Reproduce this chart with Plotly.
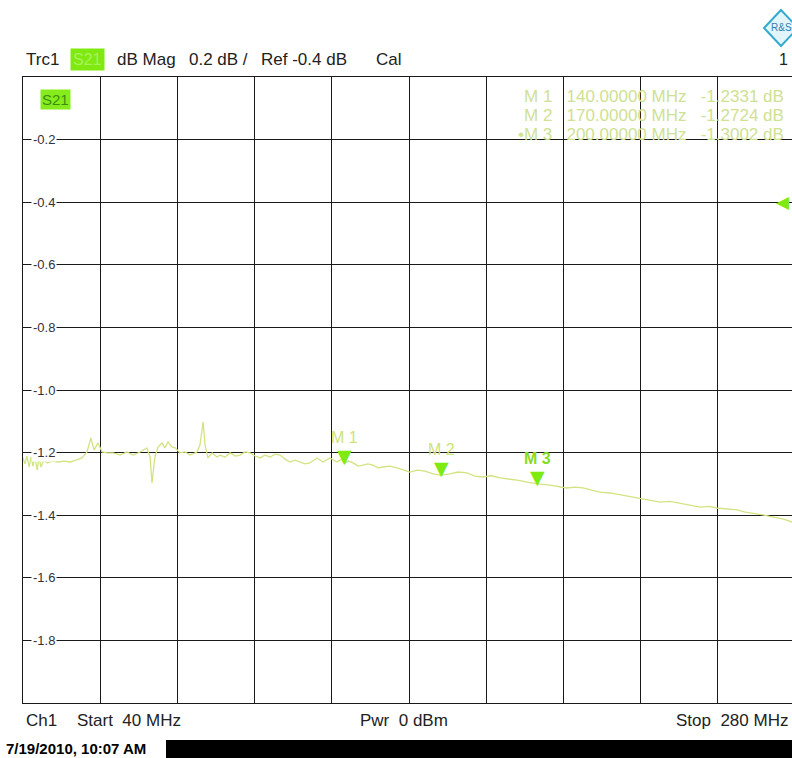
import plotly.graph_objects as go

# ---------------- data ----------------
freq_mhz = [40.0, 40.6, 41.2, 41.9, 42.5, 43.1, 43.7, 44.4, 45.0, 45.6, 46.5, 47.5,
            49.0, 50.9, 52.7, 54.6, 56.5, 58.3, 59.9, 61.1, 62.1, 63.3, 64.6, 66.1,
            68.0, 70.2, 72.3, 74.2, 76.4, 78.5, 79.5, 80.1, 81.0, 82.0, 83.2, 84.1,
            85.1, 86.3, 87.3, 88.8, 90.4, 91.9, 94.1, 95.0, 96.0, 96.6, 97.5, 98.8,
            100.3, 101.2, 102.8, 104.4, 106.0, 107.5, 109.0, 110.6, 112.2, 113.7,
            115.2, 116.8, 118.4, 119.9, 121.5, 123.0, 124.6, 126.1, 127.7, 129.2,
            131.4, 133.3, 135.4, 137.6, 139.0, 140.0, 141.2, 142.6, 144.2, 145.7,
            147.2, 148.8, 150.4, 151.9, 154.0, 156.3, 158.3, 160.3, 162.6, 165.0,
            167.5, 170.0, 172.7, 175.3, 178.0, 180.5, 183.0, 185.6, 188.3, 190.9,
            193.6, 196.8, 200.0, 203.8, 206.5, 209.1, 211.6, 214.1, 216.8, 219.4,
            222.5, 225.6, 228.7, 231.8, 234.9, 238.0, 241.1, 244.2, 247.3, 250.5,
            253.1, 255.7, 258.8, 262.0, 264.5, 266.9, 270.0, 273.2, 276.2, 279.1]
s21_db = [-1.217, -1.236, -1.211, -1.246, -1.214, -1.243, -1.211, -1.256, -1.217, -1.246, -1.224, -1.233,
          -1.227, -1.230, -1.227, -1.230, -1.224, -1.217, -1.198, -1.153, -1.192, -1.169, -1.198, -1.201,
          -1.201, -1.208, -1.198, -1.208, -1.198, -1.185, -1.214, -1.297, -1.214, -1.182, -1.169, -1.185,
          -1.166, -1.182, -1.185, -1.201, -1.198, -1.208, -1.198, -1.176, -1.102, -1.176, -1.217, -1.201,
          -1.214, -1.208, -1.214, -1.201, -1.211, -1.208, -1.198, -1.201, -1.211, -1.217,
          -1.208, -1.214, -1.205, -1.208, -1.221, -1.230, -1.224, -1.230, -1.236, -1.233,
          -1.217, -1.230, -1.217, -1.230, -1.221, -1.233, -1.227, -1.233, -1.243, -1.240,
          -1.236, -1.240, -1.249, -1.246, -1.243, -1.249, -1.256, -1.262, -1.256, -1.259,
          -1.268, -1.272, -1.268, -1.262, -1.265, -1.275, -1.278, -1.274, -1.281, -1.284,
          -1.288, -1.294, -1.300, -1.304, -1.308, -1.313, -1.310, -1.313, -1.320, -1.326,
          -1.329, -1.335, -1.340, -1.345, -1.351, -1.358, -1.356, -1.361, -1.368, -1.374,
          -1.372, -1.377, -1.381, -1.383, -1.390, -1.393, -1.399, -1.406, -1.412, -1.422]

marker_names = ["M 1", "M 2", "M 3"]
marker_freq = [140.0, 170.0, 200.0]
marker_db = [-1.2331, -1.2724, -1.3002]

y_tick_vals = [-0.2, -0.4, -0.6, -0.8, -1.0, -1.2, -1.4, -1.6, -1.8]
y_tick_text = ["-0.2", "-0.4", "-0.6", "-0.8", "-1.0", "-1.2", "-1.4", "-1.6", "-1.8"]

start_mhz = 40
stop_mhz = 280
ref_db = -0.4

# ---------------- layout helpers ----------------
W, H = 792, 758
L, R, T, B = 23, 0, 77, 55
PW, PH = W - L - R, H - T - B


def px(x):
    return (x - L) / PW


def py(y):
    return (H - B - y) / PH


TRACE = "#d2e482"
GREEN = "#7eea12"
PALE = "#cfe192"
FONT = "Liberation Sans, Arial, sans-serif"

fig = go.Figure()
fig.add_trace(go.Scatter(x=freq_mhz, y=s21_db, mode="lines",
                         line=dict(color=TRACE, width=1.3), hoverinfo="skip"))

annotations = []
# y tick labels inside the grid with white background
for v, t in zip(y_tick_vals, y_tick_text):
    annotations.append(dict(x=px(31), y=v, xref="paper", yref="y", text=t,
                            showarrow=False, xanchor="left", yanchor="middle",
                            bgcolor="white", borderpad=1,
                            font=dict(family=FONT, size=13, color="#333333")))

# markers (triangles and labels)
for i, (n, f, d) in enumerate(zip(marker_names, marker_freq, marker_db)):
    annotations.append(dict(x=f, y=d, xref="x", yref="y", text="▼", showarrow=False,
                            xanchor="center", yanchor="bottom", yshift=-6,
                            font=dict(family="DejaVu Sans", size=19, color=GREEN)))
    active = (i == len(marker_names) - 1)
    annotations.append(dict(x=f, y=d, xref="x", yref="y",
                            text=f"<b>{n}</b>" if active else n, showarrow=False,
                            xanchor="center", yanchor="bottom", yshift=15,
                            font=dict(family=FONT, size=16,
                                      color="#86dc22" if active else "#cde37c")))

# marker readout (top right)
for i, (n, f, d) in enumerate(zip(marker_names, marker_freq, marker_db)):
    prefix = "•" if i == len(marker_names) - 1 else ""
    annotations.append(dict(x=px(786), y=py(96 + 19 * i), xref="paper", yref="paper",
                            text=f"{prefix}{n}   {f:.5f} MHz   {d:.4f} dB",
                            showarrow=False, xanchor="right", yanchor="middle",
                            font=dict(family=FONT, size=17, color=PALE)))

# S21 label inside plot
annotations.append(dict(x=px(40), y=py(100), xref="paper", yref="paper", text="S21",
                        showarrow=False, xanchor="left", yanchor="middle",
                        bgcolor="#86ec1c", borderpad=1,
                        font=dict(family=FONT, size=15, color="#3a8f12")))

# reference level indicator at right edge
annotations.append(dict(x=px(792), y=ref_db, xref="paper", yref="y", text="◀",
                        showarrow=False, xanchor="right", yanchor="middle",
                        font=dict(family="DejaVu Sans", size=17, color=GREEN)))

# header line
hdr_y = py(60)
hdr = [("Trc1", 24), ("dB Mag", 115), ("0.2 dB /", 187),
       (f"Ref {ref_db} dB", 259), ("Cal", 374)]
for t, xx in hdr:
    annotations.append(dict(x=px(xx), y=hdr_y, xref="paper", yref="paper", text=t,
                            showarrow=False, xanchor="left", yanchor="middle",
                            font=dict(family=FONT, size=17, color="#222222")))
annotations.append(dict(x=px(70), y=hdr_y, xref="paper", yref="paper", text="S21",
                        showarrow=False, xanchor="left", yanchor="middle",
                        bgcolor="#80ea10", borderpad=2,
                        font=dict(family=FONT, size=16, color="#a6f25c")))
annotations.append(dict(x=px(790), y=hdr_y, xref="paper", yref="paper", text="1",
                        showarrow=False, xanchor="right", yanchor="middle",
                        font=dict(family=FONT, size=16, color="#222222")))
annotations.append(dict(x=px(781), y=py(28), xref="paper", yref="paper", text="R&amp;S",
                        showarrow=False, xanchor="center", yanchor="middle",
                        font=dict(family=FONT, size=10, color="#2f7fb8")))

# footer
foot_y = py(720)
foot = [("Ch1", 24, "left"), (f"Start  {start_mhz} MHz", 75, "left"),
        ("Pwr  0 dBm", 358, "left"), (f"Stop  {stop_mhz} MHz", 790, "right")]
for t, xx, anc in foot:
    annotations.append(dict(x=px(xx), y=foot_y, xref="paper", yref="paper", text=t,
                            showarrow=False, xanchor=anc, yanchor="middle",
                            font=dict(family="Liberation Sans Narrow, " + FONT, size=17,
                                      color="#222222")))
annotations.append(dict(x=px(4), y=py(748), xref="paper", yref="paper",
                        text="<b>7/19/2010, 10:07 AM</b>", showarrow=False,
                        xanchor="left", yanchor="middle",
                        font=dict(family="Liberation Sans Narrow, " + FONT, size=15,
                                  color="#000000")))

shapes = [
    dict(type="rect", xref="paper", yref="paper", x0=px(166), x1=px(800),
         y0=py(760), y1=py(740), fillcolor="black", line=dict(width=0), layer="above"),
    dict(type="path", xref="paper", yref="paper",
         path=f"M {px(764)} {py(28)} L {px(781)} {py(10)} L {px(798)} {py(28)} "
              f"L {px(781)} {py(46)} Z",
         line=dict(color="#36a9cf", width=2), fillcolor="rgba(170,225,240,0.35)"),
]

visible_stop = start_mhz + (stop_mhz - start_mhz) * PW / 772.0

fig.update_layout(
    width=W, height=H, margin=dict(l=L, r=R, t=T, b=B),
    paper_bgcolor="white", plot_bgcolor="white", showlegend=False,
    xaxis=dict(range=[start_mhz, visible_stop], tick0=start_mhz, dtick=24,
               showgrid=True, gridcolor="#1a1a1a", gridwidth=1,
               showline=True, linecolor="#1a1a1a", linewidth=1, mirror=True,
               showticklabels=False, ticks="", zeroline=False, fixedrange=True),
    yaxis=dict(range=[-2.0, 0.0], tickvals=y_tick_vals, showgrid=True,
               gridcolor="#1a1a1a", gridwidth=1, showline=True, linecolor="#1a1a1a",
               linewidth=1, mirror=False, showticklabels=False, ticks="inside",
               ticklen=5, tickcolor="#1a1a1a", zeroline=False, fixedrange=True),
    annotations=annotations, shapes=shapes,
)

fig.write_html("out.html", config={"displayModeBar": False},
               post_script="document.body.style.margin='0';document.body.style.overflow='hidden';")
